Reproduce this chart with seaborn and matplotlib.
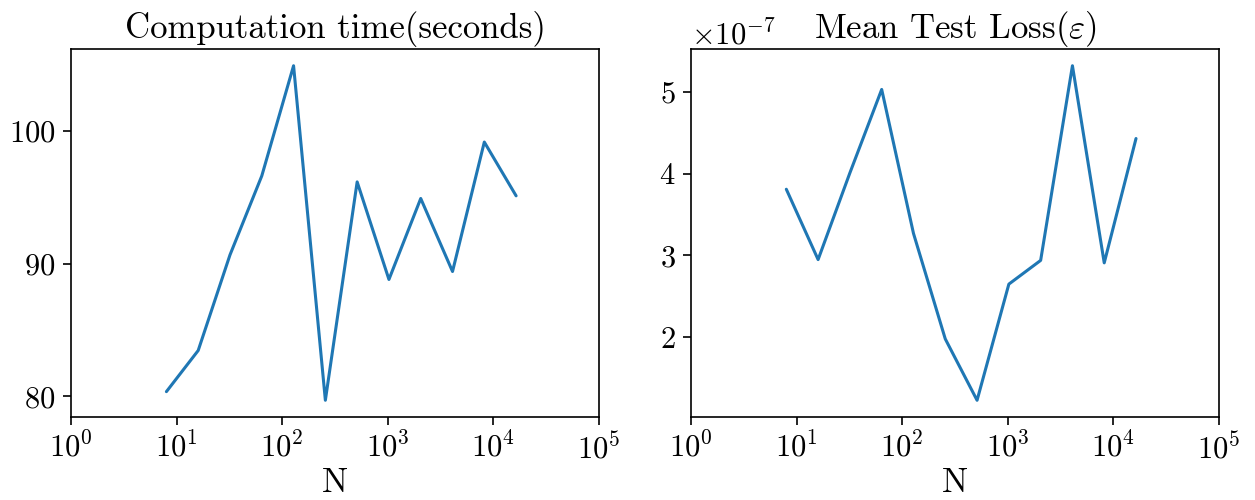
import matplotlib
matplotlib.use("Agg")
import matplotlib.pyplot as plt
import seaborn as sns
from matplotlib.ticker import NullLocator, LogLocator

# Data
n_values = [8, 16, 32, 64, 128, 256, 512, 1024, 2048, 4096, 8192, 16384]
comp_time = [80.35, 83.45, 90.65, 96.6, 104.9, 79.7, 96.15, 88.8, 94.9, 89.4, 99.15, 95.1]
test_loss = [3.81e-7, 2.95e-7, 4.01e-7, 5.03e-7, 3.27e-7, 1.98e-7, 1.23e-7,
             2.65e-7, 2.94e-7, 5.32e-7, 2.91e-7, 4.43e-7]

sns.set_style("ticks")
plt.rcParams['font.family'] = 'serif'
plt.rcParams['font.serif'] = ['cmr10']
plt.rcParams['mathtext.fontset'] = 'cm'
plt.rcParams['axes.formatter.use_mathtext'] = True
plt.rcParams['axes.unicode_minus'] = True
plt.rcParams['text.color'] = 'black'
plt.rcParams['axes.labelcolor'] = 'black'
plt.rcParams['xtick.color'] = 'black'
plt.rcParams['ytick.color'] = 'black'

fig, axes = plt.subplots(1, 2, figsize=(12.55, 5), dpi=100)
fig.subplots_adjust(left=0.0566, right=0.9713, bottom=0.166, top=0.902, wspace=0.174)

panels = [
    (comp_time, "Computation time(seconds)"),
    (test_loss, r"Mean Test Loss($\varepsilon$)"),
]
for ax, (vals, title) in zip(axes, panels):
    sns.lineplot(x=n_values, y=vals, ax=ax, color="#1f77b4", linewidth=2.2)
    ax.set_xscale('log')
    ax.set_xlim(1, 1e5)
    ax.xaxis.set_major_locator(LogLocator(base=10, numticks=12))
    ax.xaxis.set_minor_locator(NullLocator())
    ax.set_title(title, fontsize=25, pad=8, color='black')
    ax.set_xlabel("N", fontsize=25, labelpad=2)
    ax.tick_params(labelsize=22, length=6, width=1.2, direction='out',
                   color='black', labelcolor='black', pad=5)
    for sp in ax.spines.values():
        sp.set_color('black')
        sp.set_linewidth(1.2)

axes[0].set_yticks([80, 90, 100])
axes[1].yaxis.get_offset_text().set_fontsize(22)
axes[1].yaxis.get_offset_text().set_color('black')

plt.savefig("out.png", dpi=100)
